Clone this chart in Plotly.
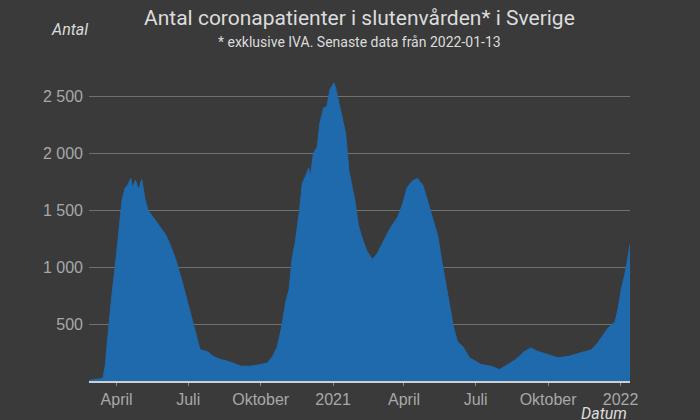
import plotly.graph_objects as go

# Daily hospitalized COVID patients (excl. ICU)
dates = [
    "2020-02-26", "2020-03-05", "2020-03-12", "2020-03-15", "2020-03-18", "2020-03-20",
    "2020-03-22", "2020-03-26", "2020-03-31", "2020-04-04", "2020-04-08", "2020-04-12",
    "2020-04-15", "2020-04-19", "2020-04-21", "2020-04-25", "2020-04-29", "2020-05-03",
    "2020-05-07", "2020-05-11", "2020-05-15", "2020-05-20", "2020-05-26", "2020-06-02",
    "2020-06-08", "2020-06-15", "2020-06-23", "2020-06-30", "2020-07-06", "2020-07-12",
    "2020-07-16", "2020-07-25", "2020-08-02", "2020-08-11", "2020-08-24", "2020-09-06",
    "2020-09-18", "2020-10-01", "2020-10-10", "2020-10-16", "2020-10-22", "2020-10-26",
    "2020-10-28", "2020-11-02", "2020-11-06", "2020-11-10", "2020-11-14", "2020-11-19",
    "2020-11-23", "2020-11-27", "2020-12-01", "2020-12-03", "2020-12-07", "2020-12-12",
    "2020-12-15", "2020-12-20", "2020-12-24", "2020-12-28", "2021-01-02", "2021-01-04",
    "2021-01-08", "2021-01-12", "2021-01-17", "2021-01-21", "2021-01-25", "2021-01-29",
    "2021-02-02", "2021-02-07", "2021-02-13", "2021-02-20", "2021-02-26", "2021-03-07",
    "2021-03-15", "2021-03-24", "2021-03-30", "2021-04-05", "2021-04-12", "2021-04-18",
    "2021-04-25", "2021-05-01", "2021-05-08", "2021-05-14", "2021-05-20", "2021-05-27",
    "2021-05-31", "2021-06-03", "2021-06-08", "2021-06-15", "2021-06-23", "2021-07-08",
    "2021-07-21", "2021-07-31", "2021-08-11", "2021-08-21", "2021-09-01", "2021-09-09",
    "2021-09-18", "2021-10-01", "2021-10-13", "2021-10-26", "2021-11-12", "2021-11-25",
    "2021-12-03", "2021-12-10", "2021-12-16", "2021-12-25", "2021-12-29", "2022-01-02",
    "2022-01-06", "2022-01-10", "2022-01-13",
]
patients = [
    5, 10, 20, 30, 150, 320,
    490, 750, 1050, 1350, 1590, 1700,
    1720, 1780, 1700, 1765, 1680, 1770,
    1600, 1500, 1460, 1410, 1350, 1290,
    1200, 1070, 880, 690, 520, 380,
    275, 260, 215, 190, 165, 130,
    130, 145, 160, 215, 300, 420,
    490, 700, 800, 1080, 1220, 1480,
    1740, 1800, 1870, 1790, 2000, 2060,
    2260, 2400, 2410, 2560, 2620, 2580,
    2460, 2320, 2170, 1850, 1710, 1570,
    1370, 1250, 1140, 1070, 1120, 1240,
    1350, 1440, 1550, 1700, 1760, 1780,
    1720, 1580, 1410, 1270, 1010, 750,
    600, 470, 345, 300, 205, 145,
    130, 100, 145, 190, 260, 290,
    260, 230, 205, 215, 250, 275,
    335, 405, 465, 520, 640, 810,
    920, 1070, 1200,
]

x_tickvals = ["2020-04-01", "2020-07-01", "2020-10-01", "2021-01-01",
              "2021-04-01", "2021-07-01", "2021-10-01", "2022-01-01"]
x_ticktext = ["April", "Juli", "Oktober", "2021", "April", "Juli", "Oktober", "2022"]
y_tickvals = [500, 1000, 1500, 2000, 2500]
y_ticktext = ["500", "1 000", "1 500", "2 000", "2 500"]

BG = "#3a3a3a"
BLUE = "#1f69ad"

fig = go.Figure()
fig.add_trace(go.Scatter(
    x=dates, y=patients, mode="lines", fill="tozeroy",
    line=dict(color=BLUE, width=1), fillcolor=BLUE, hoverinfo="skip",
))

fig.update_layout(
    width=700, height=420,
    paper_bgcolor=BG, plot_bgcolor=BG,
    margin=dict(l=89, r=70, t=70, b=33),
    showlegend=False,
    font=dict(family="Liberation Sans, Arial", color="#a8a8a8", size=16),
    xaxis=dict(
        type="date", range=["2020-02-26", "2022-01-13"],
        tickvals=x_tickvals, ticktext=x_ticktext,
        showgrid=False, zeroline=False,
        showline=True, linecolor="#cfcfcf", linewidth=2,
        ticks="outside", ticklen=3, tickcolor="#888888",
        tickfont=dict(size=16, color="#a8a8a8"),
    ),
    yaxis=dict(
        range=[0, 2733],
        tickvals=y_tickvals, ticktext=y_ticktext,
        showgrid=True, gridcolor="#707070", gridwidth=1,
        zeroline=False, showline=False, ticks="",
        ticklabelstandoff=5,
        tickfont=dict(size=16, color="#a8a8a8"),
    ),
    annotations=[
        dict(text="Antal coronapatienter i slutenvården* i Sverige",
             xref="paper", yref="paper", x=(359 - 89) / 541, y=(420 - 17 - 33) / 317,
             xanchor="center", yanchor="middle", showarrow=False,
             font=dict(family="Roboto", size=21, color="#dcdcdc")),
        dict(text="* exklusive IVA. Senaste data från 2022-01-13",
             xref="paper", yref="paper", x=(359 - 89) / 541, y=(420 - 41 - 33) / 317,
             xanchor="center", yanchor="middle", showarrow=False,
             font=dict(family="Roboto", size=14, color="#dcdcdc")),
        dict(text="<i>Antal</i>",
             xref="paper", yref="paper", x=(49 - 89) / 541, y=(420 - 29 - 33) / 317,
             xanchor="left", yanchor="middle", showarrow=False,
             font=dict(family="Roboto", size=16, color="#dcdcdc")),
        dict(text="<i>Datum</i>",
             xref="paper", yref="paper", x=(629 - 89) / 541, y=(420 - 420 - 33) / 317,
             xanchor="right", yanchor="middle", showarrow=False,
             font=dict(family="Roboto", size=16, color="#dcdcdc")),
    ],
)

fig.write_html("out.html")
